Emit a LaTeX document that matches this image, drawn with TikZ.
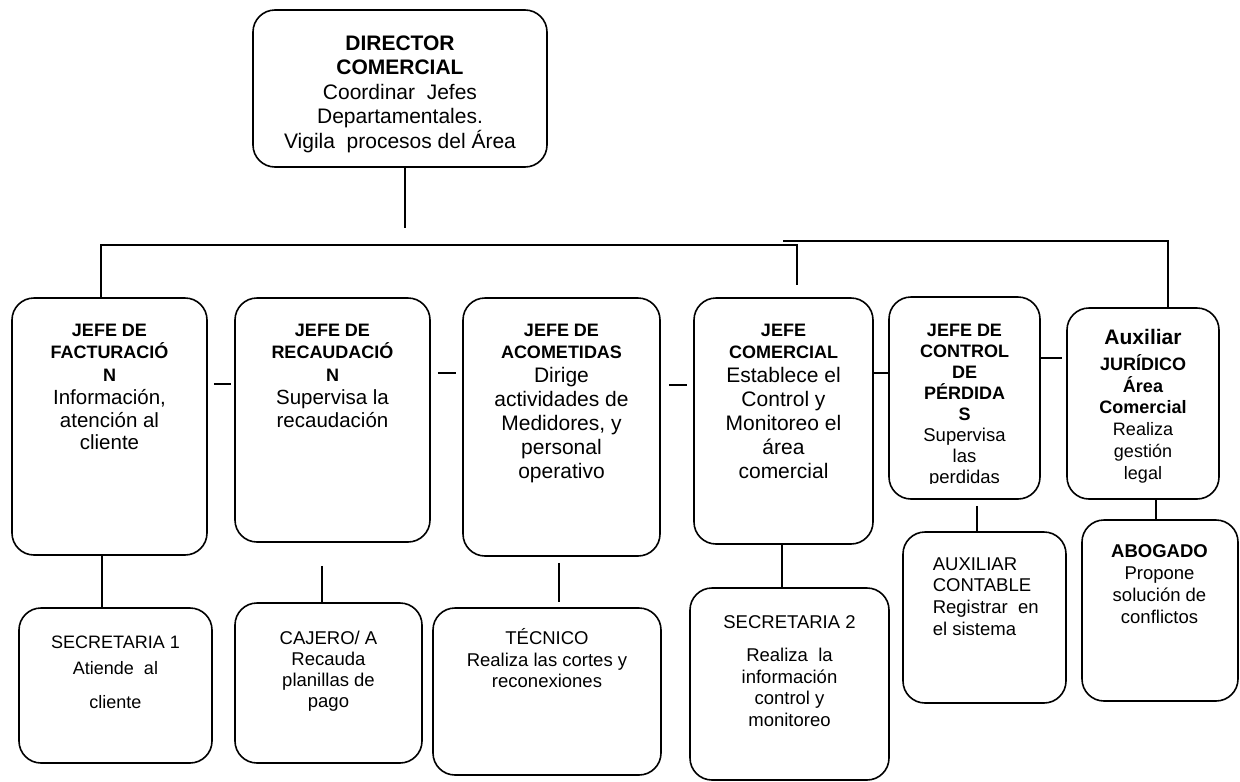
\documentclass[tikz,border=0pt]{standalone}
\usepackage{fontspec}
\setmainfont{Liberation Sans}
\usetikzlibrary{calc}

\newcommand\fs[2]{\fontsize{#1}{#2}\selectfont}
\newcommand\hd{\fs{18}{22}\bfseries}

\begin{document}
\begin{tikzpicture}[x=1pt,y=-1pt,line width=1.6pt,
  box/.style={draw, rounded corners=22pt, fill=white, inner sep=0pt},
  txt/.style={inner sep=0pt, align=center, anchor=north},
  link/.style={draw}]
\useasboundingbox (0,0) rectangle (1240,782);

% --- boxes ---
\node[box, minimum width=294, minimum height=157] (dir) at (400,88.5) {};
\node[box, minimum width=195, minimum height=257] (b1) at (109.5,426.5) {};
\node[box, minimum width=195, minimum height=244] (b2) at (332.5,420) {};
\node[box, minimum width=197, minimum height=258] (b3) at (561.5,427) {};
\node[box, minimum width=179, minimum height=246] (b4) at (783.5,421) {};
\node[box, minimum width=151, minimum height=202] (b5) at (964.5,398) {};
\node[box, minimum width=152, minimum height=191] (b6) at (1143,403.5) {};
\node[box, minimum width=193, minimum height=155] (s1) at (115.5,685.5) {};
\node[box, minimum width=187, minimum height=160] (s2) at (328.5,683) {};
\node[box, minimum width=228, minimum height=167] (s3) at (547,691.5) {};
\node[box, minimum width=199, minimum height=192] (s4) at (789.5,684) {};
\node[box, minimum width=163, minimum height=171] (s5) at (984.5,617.5) {};
\node[box, minimum width=156, minimum height=181] (s6) at (1160,610.5) {};

% --- texts ---
\node[txt, font=\fs{21}{24.5}] (tdir) at (400,35)
  {\bfseries DIRECTOR\\ \bfseries COMERCIAL\\ Coordinar~~Jefes\\ Departamentales.\\ Vigila~~procesos del Área};
\node[txt, font=\fs{20.5}{22.5}] (t1) at (109.5,323)
  {\hd JEFE DE\\ \hd FACTURACIÓ\\ \hd N\\[1] Información,\\ atención al\\ cliente};
\node[txt, font=\fs{20.5}{22.5}] (t2) at (332.5,323)
  {\hd JEFE DE\\ \hd RECAUDACIÓ\\ \hd N\\[1] Supervisa la\\ recaudación};
\node[txt, font=\fs{21}{24}] (t3) at (561.5,323)
  {\hd JEFE DE\\[-2] \hd ACOMETIDAS\\ Dirige\\ actividades de\\ Medidores, y\\ personal\\ operativo};
\node[txt, font=\fs{21}{24}] (t4) at (783.5,323)
  {\hd JEFE\\[-2] \hd COMERCIAL\\ Establece el\\ Control y\\ Monitoreo el\\ área\\ comercial};
\begin{scope}
  \clip (880,290) rectangle (1050,483);
  \node[txt, font=\fs{18.5}{21}] (t5) at (964.5,323)
    {\hd JEFE DE\\ \hd CONTROL\\ \hd DE\\ \hd PÉRDIDA\\ \hd S\\ Supervisa\\ las\\ perdidas};
\end{scope}
\node[txt, font=\fs{18}{21.7}] (t6) at (1143,328.5)
  {\fs{21}{25}\bfseries Auxiliar\\[4.3] \hd JURÍDICO\\ \hd Área\\ \hd Comercial\\ Realiza\\ gestión\\ legal};
\node[txt, font=\fs{18}{26}] (u1) at (115.5,635)
  {SECRETARIA 1\\ Atiende~~al\\[8] cliente};
\node[txt, font=\fs{18.5}{21}] (u2) at (328.5,630.5)
  {CAJERO/ A\\ Recauda\\ planillas de\\ pago};
\node[txt, font=\fs{18.5}{21.5}] (u3) at (547,628)
  {TÉCNICO\\ Realiza las cortes y\\ reconexiones};
\node[txt, font=\fs{18.5}{21.7}] (u4) at (789.5,615)
  {SECRETARIA 2\\[11] Realiza~~la\\ información\\ control y\\ monitoreo};
\node[txt, align=left, anchor=north west, font=\fs{18.5}{21.7}] (u5) at (932,556.5)
  {AUXILIAR\\ CONTABLE\\ Registrar~~en\\ el sistema};
\node[txt, font=\fs{18.5}{22}] (u6) at (1159.5,543.5)
  {\bfseries ABOGADO\\ Propone\\ solución de\\ conflictos};

% --- connector guide points ---
\coordinate (dirtail) at (405,228);
\coordinate (busL) at (101,245);
\coordinate (busR) at (797,245);
\coordinate (drop4) at (797,285);
\coordinate (bus2L) at (783,241);
\coordinate (bus2R) at (1168,241);
\coordinate (h12) at (0,384);
\coordinate (h23) at (0,373);
\coordinate (h34) at (0,385);
\coordinate (h45) at (0,373);
\coordinate (h56) at (0,358);
\coordinate (v1) at (102,0);
\coordinate (v2) at (322,0);
\coordinate (v3) at (559,0);
\coordinate (v4) at (782,0);
\coordinate (v5) at (977,0);
\coordinate (v6) at (1156,0);

% --- hierarchy lines ---
\draw (dir.south -| dirtail) -- (dirtail);
\draw (b1.north -| busL) -- (busL) -- (busR) -- (drop4);
\draw (bus2L) -- (bus2R) -- (b6.north -| bus2R);

% --- sibling links ---
\draw ($(b1.east |- h12)+(6,0)$) -- ($(b2.west |- h12)+(-3,0)$);
\draw ($(b2.east |- h23)+(7,0)$) -- ($(b3.west |- h23)+(-6,0)$);
\draw ($(b3.east |- h34)+(8,0)$) -- ($(b4.west |- h34)+(-6,0)$);
\draw (b4.east |- h45) -- (b5.west |- h45);
\draw (b5.east |- h56) -- ($(b6.west |- h56)+(-4,0)$);

% --- links to staff ---
\draw (b1.south -| v1) -- (s1.north -| v1);
\draw ($(b2.south -| v2)+(0,23)$) -- (s2.north -| v2);
\draw ($(b3.south -| v3)+(0,6)$) -- ($(s3.north -| v3)+(0,-5)$);
\draw (b4.south -| v4) -- (s4.north -| v4);
\draw ($(b5.south -| v5)+(0,6)$) -- (s5.north -| v5);
\draw (b6.south -| v6) -- (s6.north -| v6);
\end{tikzpicture}
\end{document}
